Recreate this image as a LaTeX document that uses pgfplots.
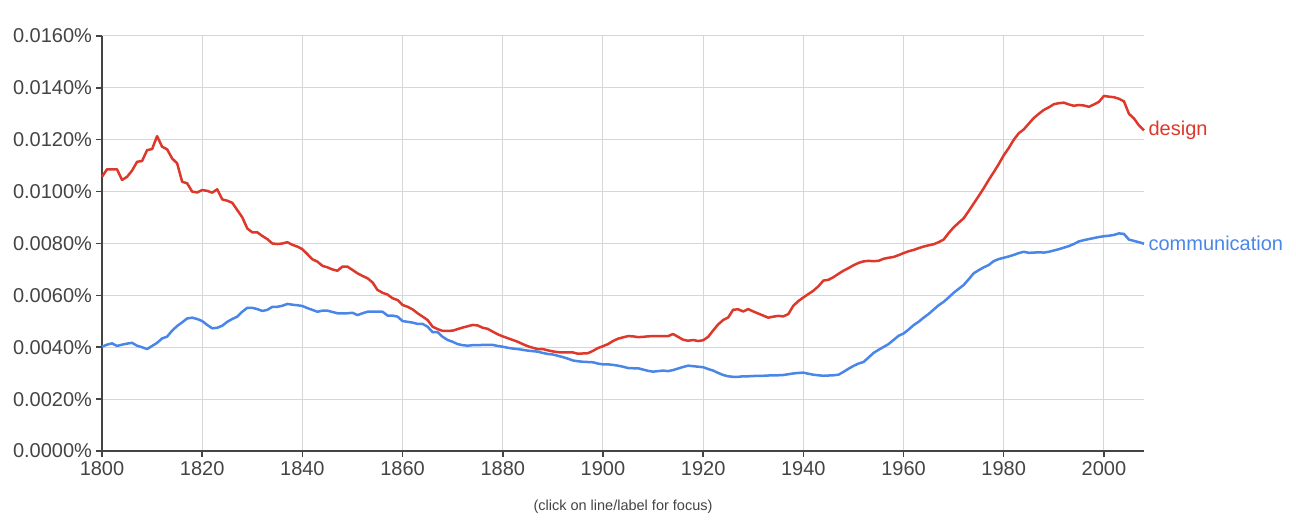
\documentclass[border=0pt]{standalone}
\usepackage{pgfplots}
\pgfplotsset{compat=1.18}
\usepackage{fontspec}
\setmainfont{Liberation Sans}
\definecolor{dred}{RGB}{220,57,43}
\definecolor{cblue}{RGB}{74,134,232}
\definecolor{axgray}{RGB}{68,68,68}
\definecolor{gridgray}{RGB}{214,214,214}
\begin{document}
\begin{tikzpicture}
\path[use as bounding box] (-102pt,-71pt) rectangle (1194pt,451pt);
\begin{axis}[
  scale only axis, width=1042pt, height=415pt,
  xmin=1800, xmax=2008, ymin=0, ymax=0.016,
  axis x line*=bottom, axis y line*=left,
  axis line style={axgray, line width=2pt},
  xtick={1800,1820,...,2000},
  ytick={0,0.002,0.004,0.006,0.008,0.010,0.012,0.014,0.016},
  scaled y ticks=false,
  grid=major, major grid style={gridgray, line width=1pt},
  tick style={axgray, line width=1.5pt},
  tick align=outside, major tick length=6pt,
  xticklabel style={/pgf/number format/1000 sep={}},
  yticklabel={\pgfmathprintnumber[fixed,fixed zerofill,precision=4]{\tick}\%},
  /pgf/number format/assume math mode=true,
  tick label style={font=\fontsize{20}{24}\selectfont, text=axgray},
  yticklabel style={xshift=-0.5pt},
  xticklabel style={yshift=-1pt},
  clip=false,
]
\addplot[dred, line width=2.5pt, line join=round] coordinates {
(1800,0.01057)(1801,0.01086)(1803,0.01086)(1804,0.01045)(1805,0.01057)(1806,0.01081)(1807,0.01115)(1808,0.01118)(1809,0.01160)(1810,0.01164)
(1811,0.01214)(1812,0.01173)(1813,0.01163)(1814,0.01128)(1815,0.01109)(1816,0.01038)(1817,0.01032)(1818,0.01000)(1819,0.00997)(1820,0.01006)
(1821,0.01003)(1822,0.00996)(1823,0.01009)(1824,0.00970)(1825,0.00965)(1826,0.00957)(1827,0.00929)(1828,0.00901)(1829,0.00858)(1830,0.00843)
(1831,0.00843)(1832,0.00829)(1833,0.00817)(1834,0.00800)(1835,0.00798)(1836,0.00800)(1837,0.00805)(1838,0.00795)(1839,0.00788)(1840,0.00778)
(1841,0.00759)(1842,0.00739)(1843,0.00730)(1844,0.00714)(1845,0.00708)(1846,0.00700)(1847,0.00695)(1848,0.00711)(1849,0.00711)(1850,0.00698)
(1851,0.00685)(1852,0.00675)(1853,0.00666)(1854,0.00650)(1855,0.00621)(1856,0.00610)(1857,0.00603)(1858,0.00589)(1859,0.00582)(1860,0.00563)
(1861,0.00556)(1862,0.00546)(1863,0.00531)(1864,0.00518)(1865,0.00505)(1866,0.00479)(1867,0.00470)(1868,0.00463)(1869,0.00463)(1870,0.00464)
(1871,0.00470)(1872,0.00476)(1873,0.00481)(1874,0.00486)(1875,0.00484)(1876,0.00475)(1877,0.00471)(1878,0.00460)(1879,0.00450)(1880,0.00442)
(1881,0.00435)(1882,0.00428)(1883,0.00421)(1884,0.00412)(1885,0.00404)(1886,0.00398)(1887,0.00393)(1888,0.00393)(1889,0.00388)(1890,0.00384)
(1891,0.00381)(1892,0.00380)(1893,0.00380)(1894,0.00380)(1895,0.00375)(1896,0.00376)(1897,0.00377)(1898,0.00386)(1899,0.00397)(1900,0.00404)
(1901,0.00412)(1902,0.00424)(1903,0.00433)(1904,0.00438)(1905,0.00443)(1906,0.00442)(1907,0.00439)(1908,0.00440)(1909,0.00442)(1910,0.00443)
(1911,0.00443)(1912,0.00443)(1913,0.00443)(1914,0.00451)(1915,0.00440)(1916,0.00429)(1917,0.00425)(1918,0.00428)(1919,0.00424)(1920,0.00427)
(1921,0.00440)(1922,0.00465)(1923,0.00488)(1924,0.00505)(1925,0.00515)(1926,0.00545)(1927,0.00546)(1928,0.00538)(1929,0.00547)(1930,0.00538)
(1931,0.00530)(1932,0.00522)(1933,0.00514)(1934,0.00518)(1935,0.00521)(1936,0.00519)(1937,0.00528)(1938,0.00560)(1939,0.00578)(1940,0.00592)
(1941,0.00605)(1942,0.00618)(1943,0.00635)(1944,0.00657)(1945,0.00660)(1946,0.00670)(1947,0.00683)(1948,0.00695)(1949,0.00705)(1950,0.00716)
(1951,0.00725)(1952,0.00731)(1953,0.00733)(1954,0.00732)(1955,0.00733)(1956,0.00741)(1957,0.00745)(1958,0.00748)(1959,0.00755)(1960,0.00763)
(1961,0.00770)(1962,0.00775)(1963,0.00782)(1964,0.00788)(1965,0.00793)(1966,0.00797)(1967,0.00805)(1968,0.00815)(1969,0.00840)(1970,0.00862)
(1971,0.00880)(1972,0.00897)(1973,0.00925)(1974,0.00954)(1975,0.00983)(1976,0.01013)(1977,0.01045)(1978,0.01075)(1979,0.01106)(1980,0.01140)
(1981,0.01168)(1982,0.01200)(1983,0.01225)(1984,0.01240)(1985,0.01262)(1986,0.01284)(1987,0.01300)(1988,0.01315)(1989,0.01325)(1990,0.01337)
(1991,0.01341)(1992,0.01343)(1993,0.01336)(1994,0.01331)(1995,0.01334)(1996,0.01332)(1997,0.01327)(1998,0.01336)(1999,0.01346)(2000,0.01369)
(2001,0.01366)(2002,0.01364)(2003,0.01358)(2004,0.01348)(2005,0.01300)(2006,0.01282)(2007,0.01255)(2008,0.01236)
} node[anchor=west, xshift=0pt, font=\fontsize{20}{24}\selectfont, text=dred] {design};
\addplot[cblue, line width=2.5pt, line join=round] coordinates {
(1800,0.00402)(1801,0.00410)(1802,0.00415)(1803,0.00405)(1804,0.00410)(1805,0.00414)(1806,0.00417)(1807,0.00406)(1808,0.00400)(1809,0.00393)
(1810,0.00405)(1811,0.00417)(1812,0.00434)(1813,0.00441)(1814,0.00464)(1815,0.00482)(1816,0.00496)(1817,0.00511)(1818,0.00514)(1819,0.00509)
(1820,0.00501)(1821,0.00486)(1822,0.00473)(1823,0.00475)(1824,0.00483)(1825,0.00498)(1826,0.00509)(1827,0.00518)(1828,0.00537)(1829,0.00552)
(1830,0.00552)(1831,0.00547)(1832,0.00540)(1833,0.00544)(1834,0.00556)(1835,0.00556)(1836,0.00560)(1837,0.00567)(1838,0.00564)(1839,0.00562)
(1840,0.00559)(1841,0.00551)(1842,0.00544)(1843,0.00537)(1844,0.00541)(1845,0.00541)(1846,0.00536)(1847,0.00531)(1848,0.00531)(1849,0.00531)
(1850,0.00533)(1851,0.00524)(1852,0.00531)(1853,0.00537)(1854,0.00537)(1855,0.00537)(1856,0.00537)(1857,0.00522)(1858,0.00522)(1859,0.00518)
(1860,0.00501)(1861,0.00498)(1862,0.00495)(1863,0.00490)(1864,0.00490)(1865,0.00479)(1866,0.00458)(1867,0.00458)(1868,0.00440)(1869,0.00428)
(1870,0.00421)(1871,0.00412)(1872,0.00408)(1873,0.00406)(1874,0.00408)(1875,0.00408)(1876,0.00409)(1877,0.00409)(1878,0.00409)(1879,0.00405)
(1880,0.00402)(1881,0.00398)(1882,0.00395)(1883,0.00393)(1884,0.00390)(1885,0.00387)(1886,0.00385)(1887,0.00383)(1888,0.00378)(1889,0.00374)
(1890,0.00372)(1891,0.00367)(1892,0.00362)(1893,0.00356)(1894,0.00349)(1895,0.00346)(1896,0.00344)(1897,0.00343)(1898,0.00342)(1899,0.00337)
(1900,0.00334)(1901,0.00334)(1902,0.00332)(1903,0.00329)(1904,0.00325)(1905,0.00320)(1906,0.00319)(1907,0.00319)(1908,0.00314)(1909,0.00309)
(1910,0.00306)(1911,0.00308)(1912,0.00310)(1913,0.00308)(1914,0.00312)(1915,0.00318)(1916,0.00324)(1917,0.00329)(1918,0.00327)(1919,0.00325)
(1920,0.00323)(1921,0.00316)(1922,0.00310)(1923,0.00301)(1924,0.00293)(1925,0.00288)(1926,0.00286)(1927,0.00286)(1928,0.00288)(1929,0.00288)
(1930,0.00289)(1931,0.00290)(1932,0.00290)(1933,0.00291)(1934,0.00292)(1935,0.00292)(1936,0.00293)(1937,0.00296)(1938,0.00299)(1939,0.00301)
(1940,0.00302)(1941,0.00298)(1942,0.00294)(1943,0.00292)(1944,0.00290)(1945,0.00291)(1946,0.00292)(1947,0.00294)(1948,0.00305)(1949,0.00317)
(1950,0.00328)(1951,0.00337)(1952,0.00343)(1953,0.00360)(1954,0.00378)(1955,0.00390)(1956,0.00401)(1957,0.00412)(1958,0.00428)(1959,0.00444)
(1960,0.00453)(1961,0.00468)(1962,0.00485)(1963,0.00498)(1964,0.00514)(1965,0.00528)(1966,0.00545)(1967,0.00562)(1968,0.00575)(1969,0.00592)
(1970,0.00610)(1971,0.00625)(1972,0.00640)(1973,0.00662)(1974,0.00685)(1975,0.00697)(1976,0.00708)(1977,0.00717)(1978,0.00732)(1979,0.00740)
(1980,0.00745)(1981,0.00750)(1982,0.00756)(1983,0.00763)(1984,0.00768)(1985,0.00764)(1986,0.00765)(1987,0.00766)(1988,0.00765)(1989,0.00768)
(1990,0.00773)(1991,0.00778)(1992,0.00784)(1993,0.00790)(1994,0.00798)(1995,0.00808)(1996,0.00813)(1997,0.00817)(1998,0.00821)(1999,0.00825)
(2000,0.00828)(2001,0.00830)(2002,0.00833)(2003,0.00839)(2004,0.00837)(2005,0.00815)(2006,0.00810)(2007,0.00805)(2008,0.00799)
} node[anchor=west, xshift=0pt, font=\fontsize{20}{24}\selectfont, text=cblue] {communication};
\node[font=\fontsize{14.5}{17}\selectfont, text=axgray, anchor=center] at (axis cs:1904,0) [yshift=-56pt] {(click on line/label for focus)};
\end{axis}
\end{tikzpicture}
\end{document}
